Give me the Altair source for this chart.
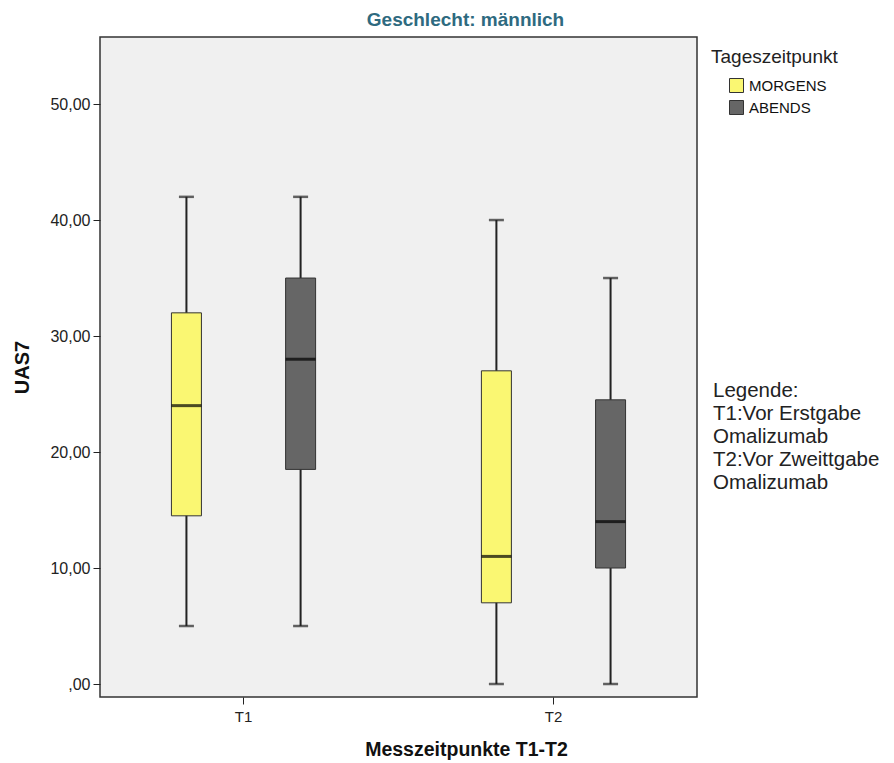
import altair as alt
import pandas as pd

zeitpunkt = ["T1", "T1", "T2", "T2"]
tageszeit = ["MORGENS", "ABENDS", "MORGENS", "ABENDS"]
lower = [5, 5, 0, 0]
q1 = [14.5, 18.5, 7, 10]
median = [24, 28, 11, 14]
q3 = [32, 35, 27, 24.5]
upper = [42, 42, 40, 35]
y_ticks = [0, 10, 20, 30, 40, 50]
legend_lines = ["Legende:", "T1:Vor Erstgabe", "Omalizumab", "T2:Vor Zweittgabe", "Omalizumab"]

df = pd.DataFrame({"Zeitpunkt": zeitpunkt, "Tageszeitpunkt": tageszeit,
                   "lower": lower, "q1": q1, "median": median, "q3": q3, "upper": upper})

SANS = "Liberation Sans, Arial"

x = alt.X("Zeitpunkt:N", sort=["T1", "T2"],
          scale=alt.Scale(paddingInner=0.214, paddingOuter=0.07),
          axis=alt.Axis(title="Messzeitpunkte T1-T2", labelAngle=0, labelFont=SANS,
                        labelFontSize=15, labelColor="#222", tickSize=7, tickColor="#222",
                        labelPadding=5, domain=False, titleFont=SANS, titleFontSize=19.5,
                        titleFontWeight="bold", titleColor="#111", titleX=366, titleY=52,
                        titleAlign="center", titleBaseline="middle"))
xo = alt.XOffset("Tageszeitpunkt:N", sort=["MORGENS", "ABENDS"],
                 scale=alt.Scale(paddingInner=0, paddingOuter=0.067))
yscale = alt.Scale(domain=[-1.12, 55.78], nice=False, zero=False)
yaxis = alt.Axis(title="UAS7", values=y_ticks,
                 labelExpr="datum.value == 0 ? ',00' : replace(format(datum.value, '.2f'), '.', ',')",
                 labelFont=SANS, labelFontSize=16, labelColor="#222", tickSize=7, tickColor="#222",
                 labelPadding=3, domain=False, grid=False, titleFont=SANS, titleFontSize=20,
                 titleFontWeight="bold", titleColor="#111", titleX=-78, titleY=330,
                 titleAngle=270, titleAlign="center", titleBaseline="middle")
color = alt.Color("Tageszeitpunkt:N", sort=["MORGENS", "ABENDS"],
                  scale=alt.Scale(domain=["MORGENS", "ABENDS"], range=["#FAF772", "#666666"]),
                  legend=alt.Legend(title="Tageszeitpunkt", orient="none", legendX=611, legendY=11,
                                    titleFont=SANS, titleFontSize=19, titleFontWeight="normal",
                                    titleColor="#222", titlePadding=11, labelFont=SANS,
                                    labelFontSize=15, labelColor="#111", symbolType="square",
                                    symbolSize=196, symbolStrokeColor="#333", symbolStrokeWidth=1,
                                    symbolOffset=18, labelOffset=5, rowPadding=3))

base = alt.Chart(df)
whisker = base.mark_rule(color="#222", strokeWidth=2).encode(
    x=x, xOffset=xo, y=alt.Y("lower:Q", scale=yscale, axis=yaxis), y2="upper:Q")
box = base.mark_bar(size=30, stroke="#333", strokeWidth=1).encode(
    x=x, xOffset=xo, y=alt.Y("q1:Q", scale=yscale), y2="q3:Q", color=color)
med = base.mark_tick(size=30, thickness=3, color="#000").encode(
    x=x, xOffset=xo, y=alt.Y("median:Q", scale=yscale))
cap_hi = base.mark_tick(size=15, thickness=2.5, color="#222").encode(
    x=x, xOffset=xo, y=alt.Y("upper:Q", scale=yscale))
cap_lo = base.mark_tick(size=15, thickness=2.5, color="#222").encode(
    x=x, xOffset=xo, y=alt.Y("lower:Q", scale=yscale))
note = alt.Chart(pd.DataFrame({"t": [0]})).mark_text(
    text=legend_lines, align="left", baseline="alphabetic", font=SANS, fontSize=20.5,
    lineHeight=23, color="#222", clip=False
).encode(x=alt.value(613), y=alt.value(360))

chart = alt.layer(whisker, box, med, cap_hi, cap_lo, note).properties(
    width=597, height=660,
    title=alt.TitleParams("Geschlecht: männlich", font=SANS, fontSize=19, fontWeight="bold",
                          color="#2E6A80", anchor="middle", offset=7, dx=67),
    autosize=alt.AutoSizeParams(type="none"),
    padding={"left": 100, "top": 37, "right": 197, "bottom": 66},
    background="white",
).configure_view(fill="#F0F0F0", stroke="#333", strokeWidth=1.5)

chart.save("out.html", embed_options={"renderer": "svg", "actions": False})
